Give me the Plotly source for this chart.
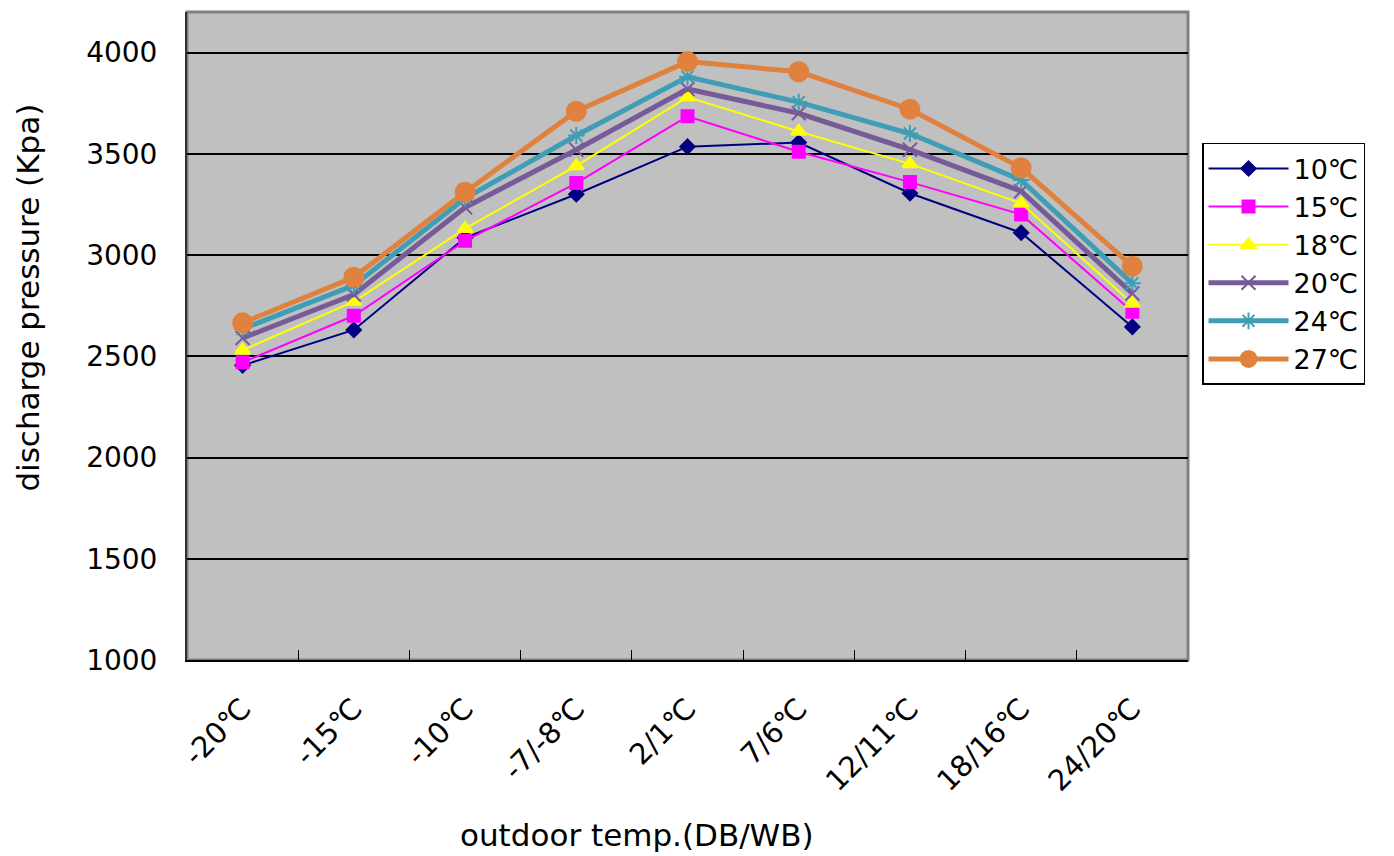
import plotly.graph_objects as go

categories = ['-20℃', '-15℃', '-10℃', '-7/-8℃', '2/1℃', '7/6℃', '12/11℃', '18/16℃', '24/20℃']

p10 = [2455, 2630, 3085, 3300, 3535, 3555, 3305, 3110, 2645]
p15 = [2470, 2700, 3070, 3355, 3685, 3510, 3360, 3200, 2720]
p18 = [2530, 2770, 3130, 3440, 3780, 3610, 3450, 3255, 2760]
p20 = [2590, 2805, 3235, 3520, 3820, 3700, 3520, 3315, 2810]
p24 = [2635, 2850, 3280, 3590, 3880, 3755, 3600, 3370, 2860]
p27 = [2665, 2890, 3310, 3710, 3955, 3905, 3720, 3430, 2945]

SERIES = [
    ('10℃', p10, '#000080', 2, 'diamond', 11),
    ('15℃', p15, '#ff00ff', 2, 'square', 12),
    ('18℃', p18, '#ffff00', 2, 'triangle-up', 13),
    ('20℃', p20, '#775b98', 5, 'x-thin-open', 14),
    ('24℃', p24, '#3f9db5', 5, 'asterisk-open', 14),
    ('27℃', p27, '#e0823e', 5, 'circle', 19),
]

FONT = 'DejaVu Sans, Liberation Sans, sans-serif'

traces = []
for label, values, color, width, symbol, size in SERIES:
    traces.append(
        go.Scatter(
            x=categories,
            y=values,
            name=label,
            mode='lines+markers',
            line=dict(color=color, width=width),
            marker=dict(
                symbol=symbol,
                size=size,
                color=color,
                line=dict(color=color, width=2),
            ),
        )
    )

layout = dict(
    width=1394,
    height=856,
    # page body adds 8px; margins account for it
    margin=dict(l=179, r=214, t=4, b=204),
    paper_bgcolor='white',
    plot_bgcolor='#c0c0c0',
    font=dict(family=FONT, size=28, color='black'),
    xaxis=dict(
        type='category',
        range=(-0.5, 8.5),
        tickangle=-45,
        ticks='inside',
        tickson='boundaries',
        ticklen=10,
        tickcolor='black',
        ticklabelstandoff=18,
        showgrid=False,
        showline=True,
        linecolor='black',
        linewidth=2,
        tickfont=dict(size=29),
    ),
    yaxis=dict(
        range=(1000, 4200),
        tickvals=[1000, 1500, 2000, 2500, 3000, 3500, 4000],
        showgrid=True,
        gridcolor='black',
        gridwidth=1.5,
        zeroline=False,
        showline=True,
        linecolor='#303030',
        linewidth=2,
        ticks='',
        ticklabelstandoff=22,
        tickfont=dict(size=28),
    ),
    annotations=[
        dict(
            text='outdoor temp.(DB/WB)', xref='paper', yref='paper',
            x=0.45, y=-0.27, xanchor='center', yanchor='middle',
            showarrow=False, font=dict(size=31),
        ),
        dict(
            text='discharge pressure (Kpa)', xref='paper', yref='paper',
            x=-0.159, y=0.559, xanchor='center', yanchor='middle',
            textangle=-90, showarrow=False, font=dict(size=31),
        ),
    ],
    legend=dict(
        x=1.014,
        y=0.798,
        xanchor='left',
        yanchor='top',
        bgcolor='white',
        bordercolor='black',
        borderwidth=1.5,
        font=dict(size=27),
        itemwidth=80,
        tracegroupgap=0,
    ),
    shapes=[
        dict(
            type='rect', xref='paper', yref='paper',
            x0=0, x1=1, y0=0, y1=1,
            line=dict(color='#808080', width=3),
            layer='below',
        ),
    ],
)

fig = go.Figure(data=traces, layout=layout)
fig.write_html('out.html')
